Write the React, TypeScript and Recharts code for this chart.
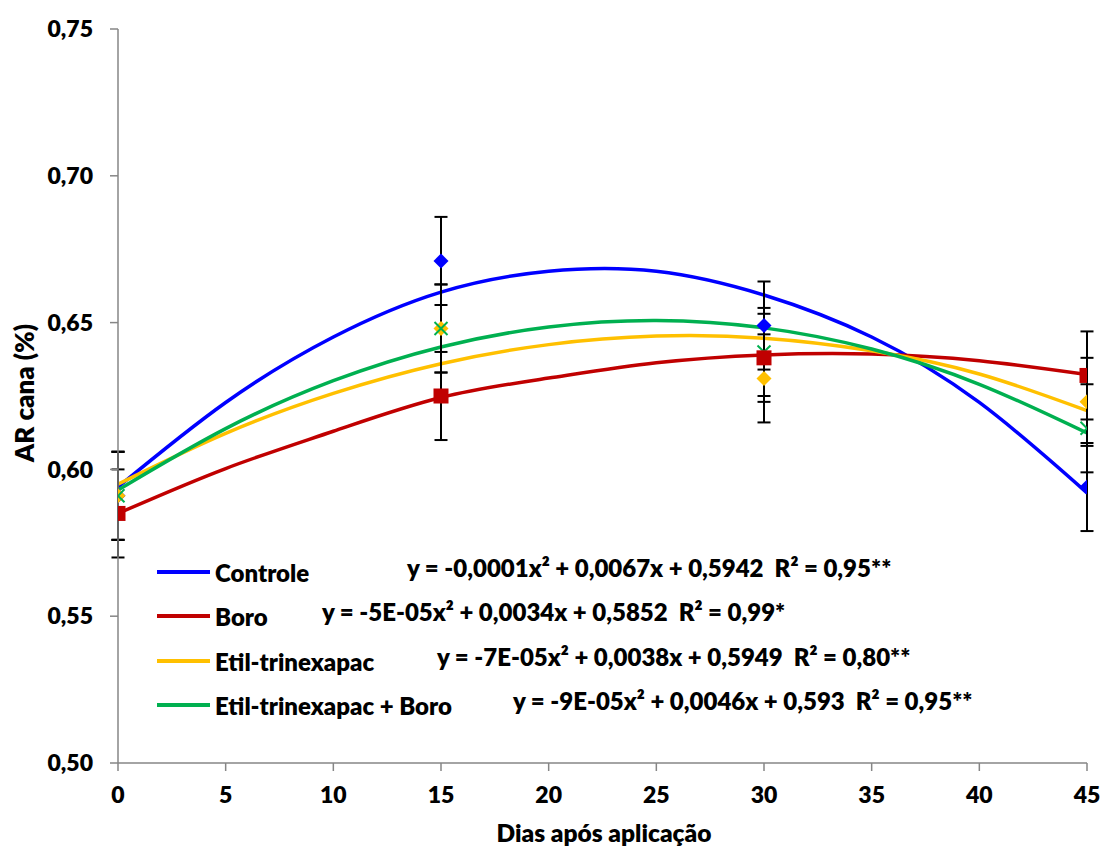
import React from 'react';
import { ComposedChart, Line, Scatter, XAxis, YAxis, ErrorBar } from 'recharts';

// Observed data (dias após aplicação)
const days = [0, 15, 30, 45];
const controle = [0.591, 0.671, 0.649, 0.594];
const boro = [0.585, 0.625, 0.638, 0.632];
const etil = [0.591, 0.648, 0.631, 0.623];
const etilBoro = [0.591, 0.648, 0.640, 0.614];
const erro = [0.015, 0.015, 0.015, 0.015];

// Trend-line values
const trendDays = [0, 5, 10, 15, 20, 25, 30, 35, 40, 45];
const controleTrend = [0.594, 0.6228, 0.6451, 0.6604, 0.6675, 0.6675, 0.6594, 0.6451, 0.6228, 0.592];
const boroTrend = [0.585, 0.6003, 0.613, 0.6245, 0.6311, 0.6363, 0.639, 0.6393, 0.637, 0.6323];
const etilTrend = [0.595, 0.6123, 0.6259, 0.636, 0.6425, 0.6454, 0.6447, 0.6404, 0.6325, 0.620];
const etilBoroTrend = [0.593, 0.6139, 0.6302, 0.6417, 0.6485, 0.6507, 0.6482, 0.641, 0.629, 0.6124];

const xTicks = [0, 5, 10, 15, 20, 25, 30, 35, 40, 45];
const yTicks = [0.5, 0.55, 0.6, 0.65, 0.7, 0.75];

const seriesNames = ['Controle', 'Boro', 'Etil-trinexapac', 'Etil-trinexapac + Boro'];
const equations = [
  'y = -0,0001x² + 0,0067x + 0,5942  R² = 0,95**',
  'y = -5E-05x² + 0,0034x + 0,5852  R² = 0,99*',
  'y = -7E-05x² + 0,0038x + 0,5949  R² = 0,80**',
  'y = -9E-05x² + 0,0046x + 0,593  R² = 0,95**',
];

const BLUE = '#0000FF';
const RED = '#C00000';
const YELLOW = '#FFC000';
const GREEN = '#00B050';
const FONT = 'Lato, "Open Sans", sans-serif';

const trendData = trendDays.map((x, i) => ({
  x,
  controle: controleTrend[i],
  boro: boroTrend[i],
  etil: etilTrend[i],
  etilBoro: etilBoroTrend[i],
}));

const mkPoints = (vals: number[]) => days.map((x, i) => ({ x, y: vals[i], err: erro[i] }));

const Diamond = (color: string) => (props: any) => {
  const { cx, cy } = props;
  const r = 7.5;
  return <polygon points={`${cx},${cy - r} ${cx + r},${cy} ${cx},${cy + r} ${cx - r},${cy}`} fill={color} />;
};
const Square = (color: string) => (props: any) => {
  const { cx, cy } = props;
  const r = 7.5;
  return <rect x={cx - r} y={cy - r} width={2 * r} height={2 * r} fill={color} />;
};
const XMark = (color: string) => (props: any) => {
  const { cx, cy } = props;
  const r = 6.5;
  return (
    <g stroke={color} strokeWidth={2}>
      <line x1={cx - r} y1={cy - r} x2={cx + r} y2={cy + r} />
      <line x1={cx - r} y1={cy + r} x2={cx + r} y2={cy - r} />
    </g>
  );
};

const fmt = (v: number) => v.toFixed(2).replace('.', ',');

const legendRows = [
  { color: BLUE, y: 572, eqX: 407 },
  { color: RED, y: 616, eqX: 322 },
  { color: YELLOW, y: 661, eqX: 437 },
  { color: GREEN, y: 705, eqX: 513 },
];

const tickStyle = { fill: '#000', fontSize: 23, fontWeight: 800, fontFamily: FONT };

export default function App() {
  return (
    <div style={{ position: 'absolute', left: 0, top: 0, width: 1102, height: 849, background: '#fff' }}>
      <ComposedChart
        width={1102}
        height={849}
        margin={{ top: 29, right: 15, bottom: 46, left: 18 }}
      >
        <XAxis
          type="number"
          dataKey="x"
          domain={[0, 45]}
          ticks={xTicks}
          interval={0}
          allowDataOverflow
          stroke="#868686"
          strokeWidth={1.5}
          tickSize={8}
          tickMargin={16}
          height={40}
          tick={tickStyle}
        />
        <YAxis
          type="number"
          domain={[0.5, 0.75]}
          ticks={yTicks}
          interval={0}
          allowDataOverflow
          width={100}
          stroke="#868686"
          strokeWidth={1.5}
          tickSize={8}
          tickMargin={17}
          tickFormatter={fmt}
          tick={tickStyle}
        />
        <Line data={trendData} dataKey="controle" type="natural" stroke={BLUE} strokeWidth={3.5} dot={false} isAnimationActive={false} />
        <Line data={trendData} dataKey="boro" type="natural" stroke={RED} strokeWidth={3.5} dot={false} isAnimationActive={false} />
        <Line data={trendData} dataKey="etil" type="natural" stroke={YELLOW} strokeWidth={3.5} dot={false} isAnimationActive={false} />
        <Line data={trendData} dataKey="etilBoro" type="natural" stroke={GREEN} strokeWidth={3.5} dot={false} isAnimationActive={false} />
        <Scatter data={mkPoints(controle)} dataKey="y" shape={Diamond(BLUE)} isAnimationActive={false}>
          <ErrorBar dataKey="err" direction="y" width={6.5} stroke="#000" strokeWidth={2} />
        </Scatter>
        <Scatter data={mkPoints(etil)} dataKey="y" shape={Diamond(YELLOW)} isAnimationActive={false}>
          <ErrorBar dataKey="err" direction="y" width={6.5} stroke="#000" strokeWidth={2} />
        </Scatter>
        <Scatter data={mkPoints(etilBoro)} dataKey="y" shape={XMark(GREEN)} isAnimationActive={false}>
          <ErrorBar dataKey="err" direction="y" width={6.5} stroke="#000" strokeWidth={2} />
        </Scatter>
        <Scatter data={mkPoints(boro)} dataKey="y" shape={Square(RED)} isAnimationActive={false}>
          <ErrorBar dataKey="err" direction="y" width={6.5} stroke="#000" strokeWidth={2} />
        </Scatter>
      </ComposedChart>
      <svg
        width={1102}
        height={849}
        style={{ position: 'absolute', left: 0, top: 0, pointerEvents: 'none' }}
        fontFamily={FONT}
        fontWeight={800}
      >
        {legendRows.map((r, i) => (
          <g key={seriesNames[i]}>
            <line x1={157} x2={210} y1={r.y} y2={r.y} stroke={r.color} strokeWidth={4} />
            <text x={215} y={r.y} dominantBaseline="central" fontSize={24} fill="#000">
              {seriesNames[i]}
            </text>
            <text x={r.eqX} y={r.y - 5} dominantBaseline="central" fontSize={24} fill="#000" style={{ whiteSpace: 'pre' }}>
              {equations[i]}
            </text>
          </g>
        ))}
        <text x={604} y={832} textAnchor="middle" dominantBaseline="central" fontSize={24.5} fill="#000">
          Dias após aplicação
        </text>
        <text
          x={24}
          y={393}
          textAnchor="middle"
          dominantBaseline="central"
          fontSize={26}
          fill="#000"
          transform="rotate(-90 24 393)"
        >
          AR cana (%)
        </text>
      </svg>
    </div>
  );
}
